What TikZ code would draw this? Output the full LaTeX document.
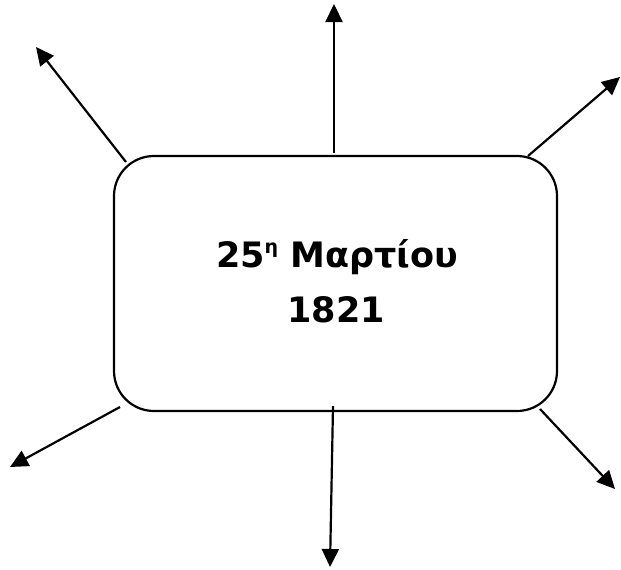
\documentclass[tikz,border=0pt]{standalone}
\usepackage{fontspec}
\setmainfont{DejaVu Sans}
\usetikzlibrary{arrows.meta}
\begin{document}
\begin{tikzpicture}[x=1pt,y=-1pt,
  conn/.style={line width=2.2pt,-{Triangle[length=18pt,width=17pt]}},
  txt/.style={font=\bfseries\fontsize{35}{40}\selectfont,anchor=base}]
\useasboundingbox (0,0) rectangle (621,570);
\node[draw,line width=2.2pt,rounded corners=40pt,minimum width=443pt,minimum height=255pt] (box) at (335.5,283.5) {};
\node[txt] (t1) at (337,267) {25\raisebox{0.4em}{\fontsize{19}{22}\selectfont η} Μαρτίου};
\node[txt] (t2) at (336,322) {1821};
\coordinate (s1) at (334,153); \coordinate (e1) at (334,4);
\coordinate (s2) at (126,162); \coordinate (e2) at (36,47);
\coordinate (s3) at (528,156); \coordinate (e3) at (620,77);
\coordinate (s4) at (120,407); \coordinate (e4) at (10,467);
\coordinate (s5) at (333,406); \coordinate (e5) at (330,567);
\coordinate (s6) at (540,409); \coordinate (e6) at (615,489);
\draw[conn] (s1) -- (e1);
\draw[conn] (s2) -- (e2);
\draw[conn] (s3) -- (e3);
\draw[conn] (s4) -- (e4);
\draw[conn] (s5) -- (e5);
\draw[conn] (s6) -- (e6);
\end{tikzpicture}
\end{document}
